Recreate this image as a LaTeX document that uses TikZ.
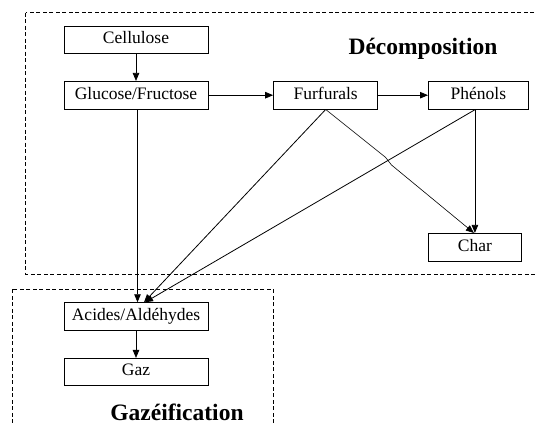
\documentclass[tikz,border=0pt]{standalone}
\usepackage{fontspec}
\setmainfont{Liberation Serif}
\usetikzlibrary{arrows.meta}
\begin{document}
\begin{tikzpicture}[x=1pt,y=-1pt,
  box/.style={draw, line width=0.8pt, inner sep=0pt, font=\fontsize{17.5}{20}\selectfont, text height=12pt, text depth=4pt},
  arr/.style={line width=0.8pt, -{Triangle[length=8pt,width=6.5pt]}},
  region/.style={draw, dash pattern=on 4pt off 2.5pt, line width=0.8pt},
  title/.style={font=\fontsize{23.5}{26}\selectfont\bfseries, anchor=base, inner sep=0pt}]
\useasboundingbox (0,0) rectangle (536,425);
\clip (0,0) rectangle (536,425);
\draw[region] (25.6,12.7) rectangle (545,274);
\draw[region] (12.2,289.3) rectangle (273.5,440);
\node[box, minimum width=144pt, minimum height=26.7pt] (cel) at (136,40) {Cellulose};
\node[box, minimum width=144pt, minimum height=27.7pt] (glu) at (136,95.2) {Glucose/Fructose};
\node[box, minimum width=104.3pt, minimum height=27.7pt] (fur) at (325.7,95.2) {Furfurals};
\node[box, minimum width=100pt, minimum height=27.7pt] (phe) at (478.4,95.2) {Phénols};
\node[box, minimum width=93pt, minimum height=27.7pt] (char) at (474.9,247.2) {Char};
\node[box, minimum width=144pt, minimum height=27.3pt] (acid) at (136,316.3) {Acides/Aldéhydes};
\node[box, minimum width=144pt, minimum height=26.7pt] (gaz) at (136,371.7) {Gaz};
\node[title] (tdec) at (423,55) {Décomposition};
\node[title] (tgaz) at (177,420) {Gazéification};
\coordinate (hopA) at (385.5,157.3);
\coordinate (hopB) at (391.5,165);
\draw[arr] (cel) -- (glu);
\draw[arr] (glu) -- (fur);
\draw[arr] (fur) -- (phe);
\draw[arr] ([xshift=1.5pt]glu.south) -- ([xshift=1.5pt]acid.north);
\draw[arr] (fur.south) -- ([xshift=8pt]acid.north);
\draw[arr] ([xshift=-3pt]phe.south) -- ([xshift=9pt]acid.north);
\draw[arr] (char.north |- phe.south) -- (char.north);
\draw[arr, line width=0.6pt] (fur.south) -- (hopA) -- (hopB) -- ([xshift=-1pt]char.north);
\draw[arr] (acid) -- (gaz);
\end{tikzpicture}
\end{document}
